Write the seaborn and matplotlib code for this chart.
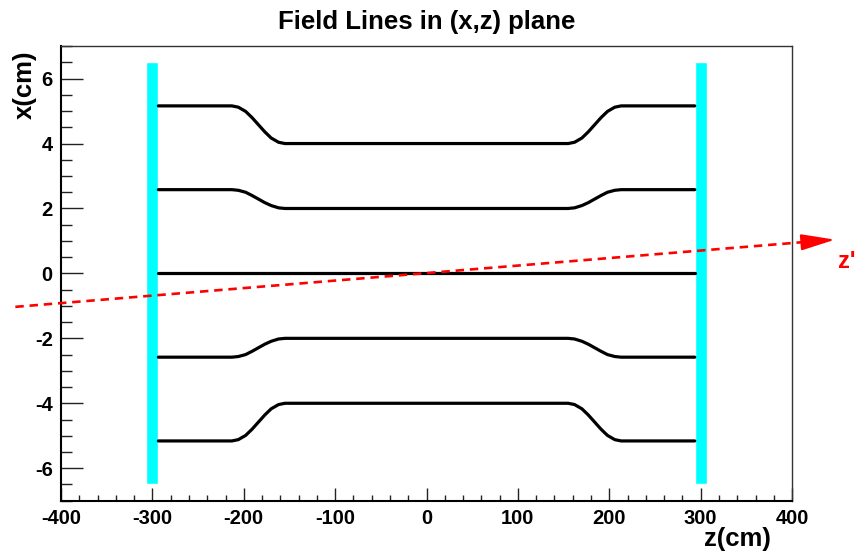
import numpy as np
import pandas as pd
import seaborn as sns
import matplotlib.pyplot as plt
from matplotlib.ticker import MultipleLocator

sns.set_style("ticks")
plt.rcParams['font.family'] = ['Liberation Sans', 'DejaVu Sans']
plt.rcParams['font.weight'] = 'bold'
plt.rcParams['axes.unicode_minus'] = False
for k in ['text.color', 'axes.labelcolor', 'xtick.color', 'ytick.color']:
    plt.rcParams[k] = 'black'

# z positions along each field line (cm)
z_pts = [-293.5, -213, -206, -198, -191, -184, -177, -170, -162, -155,
         155, 162, 170, 177, 184, 191, 198, 206, 213, 293.5]

# x positions (cm) of the five field lines
line_top = [5.16, 5.16, 5.12, 4.99, 4.80, 4.58, 4.36, 4.17, 4.04, 4.00,
            4.00, 4.04, 4.17, 4.36, 4.58, 4.80, 4.99, 5.12, 5.16, 5.16]
line_up = [2.58, 2.58, 2.56, 2.50, 2.40, 2.29, 2.18, 2.09, 2.02, 2.00,
           2.00, 2.02, 2.09, 2.18, 2.29, 2.40, 2.50, 2.56, 2.58, 2.58]
line_mid = [0.0] * 20
line_dn = [-2.58, -2.58, -2.56, -2.50, -2.40, -2.29, -2.18, -2.09, -2.02, -2.00,
           -2.00, -2.02, -2.09, -2.18, -2.29, -2.40, -2.50, -2.56, -2.58, -2.58]
line_bot = [-5.16, -5.16, -5.12, -4.99, -4.80, -4.58, -4.36, -4.17, -4.04, -4.00,
            -4.00, -4.04, -4.17, -4.36, -4.58, -4.80, -4.99, -5.12, -5.16, -5.16]

# plates at z = +-300
plate_z = [-300, 300]
plate_lo = -6.5
plate_hi = 6.5

# rotated z' axis (dashed red arrow)
zp_start = (-450, -1.03)
zp_head = (415, 0.97)
zp_tip = (447, 1.04)

xticks = [-400, -300, -200, -100, 0, 100, 200, 300, 400]
yticks = [-6, -4, -2, 0, 2, 4, 6]

lines = {'top': line_top, 'up': line_up, 'mid': line_mid, 'dn': line_dn, 'bot': line_bot}
df = pd.concat([pd.DataFrame({'z': z_pts, 'x': v, 'line': k}) for k, v in lines.items()])

fig = plt.figure(figsize=(8.56, 5.56), dpi=100)
ax = fig.add_axes([0.0713, 0.0995, 0.854, 0.8175])

ax.bar(plate_z, plate_hi - plate_lo, bottom=plate_lo, width=13, color='#00ffff', zorder=1)

sns.lineplot(data=df, x='z', y='x', hue='line', units='line', estimator=None, sort=False,
             palette=['black'] * 5, linewidth=2.3, legend=False, ax=ax, zorder=2,
             solid_joinstyle='round')

ax.plot([zp_start[0], zp_head[0]], [zp_start[1], zp_head[1]], color='red', lw=1.9,
        dashes=(3.2, 2.2), clip_on=False, zorder=3)
ax.annotate('', xy=zp_tip, xytext=zp_head, annotation_clip=False,
            arrowprops=dict(arrowstyle='-|>,head_length=2.1,head_width=0.5', color='red',
                            lw=1.5, shrinkA=0, shrinkB=0))
ax.text(450, 0.37, "z'", color='red', fontsize=17, fontweight='bold', va='center', ha='left',
        clip_on=False)

ax.set_xlim(-400, 400)
ax.set_ylim(-7, 7)
ax.set_xticks(xticks)
ax.set_yticks(yticks)
ax.xaxis.set_minor_locator(MultipleLocator(20))
ax.yaxis.set_minor_locator(MultipleLocator(0.5))
ax.tick_params(axis='both', which='both', direction='in', top=False, right=False,
               color='#222222', width=1.0, labelsize=14.5)
ax.tick_params(axis='y', which='major', length=15.5, pad=6)
ax.tick_params(axis='y', which='minor', length=8)
ax.tick_params(axis='x', which='major', length=9.6, pad=6)
ax.tick_params(axis='x', which='minor', length=4.6)
for lab in ax.get_xticklabels() + ax.get_yticklabels():
    lab.set_fontweight('bold')

for s in ['left', 'bottom']:
    ax.spines[s].set_linewidth(1.5)
    ax.spines[s].set_color('black')
for s in ['top', 'right']:
    ax.spines[s].set_linewidth(1.0)
    ax.spines[s].set_color('#333333')

ax.set_title('Field Lines in (x,z) plane', fontsize=18.5, fontweight='bold', pad=12)
ax.set_xlabel('z(cm)', fontsize=18.5, fontweight='bold', loc='right')
ax.xaxis.set_label_coords(0.971, -0.058)
ax.set_ylabel('x(cm)', fontsize=18.5, fontweight='bold', loc='top')
ax.yaxis.set_label_coords(-0.033, 0.991)

fig.savefig('out.png', dpi=100)
